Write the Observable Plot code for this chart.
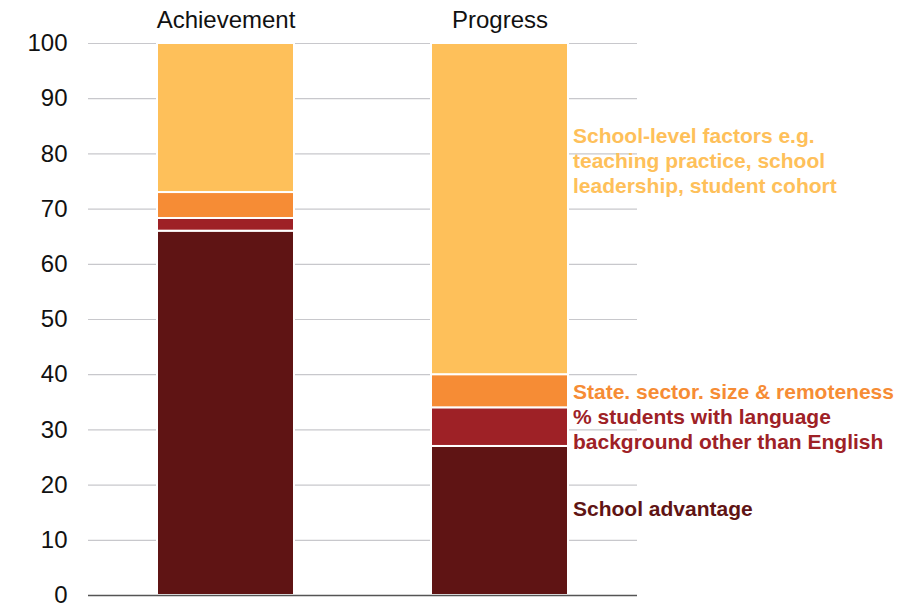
<!DOCTYPE html>
<html>
<head>
<meta charset="utf-8">
<script src="https://cdn.jsdelivr.net/npm/d3@7"></script>
<script src="https://cdn.jsdelivr.net/npm/@observablehq/plot@0.6"></script>
<style>
  html, body { margin: 0; padding: 0; background: #fff; }
  svg { font-family: "Liberation Sans", Arial, sans-serif; }
</style>
</head>
<body>
<div id="chart"></div>
<script>
const categories = ["Achievement", "Progress"];
const factors = [
  "School advantage",
  "% students with language background other than English",
  "State. sector. size & remoteness",
  "School-level factors"
];
const achievementValues = [66, 2.3, 4.7, 27];
const progressValues = [27, 7, 6, 60];
const yTicks = [0, 10, 20, 30, 40, 50, 60, 70, 80, 90, 100];
const labelTexts = [
  "School advantage",
  "% students with language\nbackground other than English",
  "State. sector. size & remoteness",
  "School-level factors e.g.\nteaching practice, school\nleadership, student cohort"
];
const labelY = [15.9, 30.3, 37.1, 78.9];
const colors = ["#5f1414", "#9e2126", "#f68c35", "#fec05a"];

const rows = [];
categories.forEach((c, ci) => {
  const vals = ci === 0 ? achievementValues : progressValues;
  factors.forEach((f, fi) => rows.push({category: c, factor: f, value: vals[fi]}));
});
const labels = factors.map((f, i) => ({factor: f, text: labelTexts[i], y: labelY[i], category: "Progress"}));

const chart = Plot.plot({
  width: 910,
  height: 604,
  marginLeft: 88,
  marginRight: 273,
  marginTop: 43,
  marginBottom: 9,
  style: {fontFamily: "Liberation Sans, Arial, sans-serif", background: "#fff", overflow: "visible"},
  x: {domain: categories, paddingInner: 0.5, paddingOuter: 0.25, axis: null},
  y: {domain: [0, 100], axis: null},
  color: {domain: factors, range: colors},
  marks: [
    Plot.gridY(yTicks, {stroke: "#c8c8cc", strokeOpacity: 1, strokeWidth: 1.2}),
    Plot.axisY(yTicks, {tickSize: 0, tickPadding: 21, fontSize: 24, fill: "#111", label: null}),
    Plot.axisX({anchor: "top", tickSize: 0, tickPadding: 16, fontSize: 24, fill: "#111", label: null}),
    Plot.barY(rows, {x: "category", y: "value", fill: "factor", stroke: "#fff", strokeWidth: 2, inset: 0}),
    Plot.ruleY([0], {stroke: "#555", strokeWidth: 1.5}),
    Plot.text(labels, {
      x: "category", y: "y", text: "text", fill: "factor",
      textAnchor: "start", dx: 73, fontSize: 21, fontWeight: "bold",
      lineHeight: 1.2, lineAnchor: "middle"
    })
  ]
});
document.getElementById("chart").appendChild(chart);
</script>
</body>
</html>
